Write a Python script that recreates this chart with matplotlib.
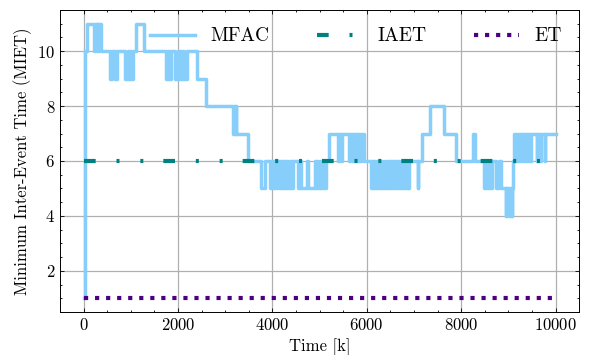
import numpy as np
import matplotlib
matplotlib.use('Agg')
import matplotlib.pyplot as plt
from matplotlib.ticker import AutoMinorLocator

plt.rcParams['font.family'] = 'serif'
plt.rcParams['font.serif'] = ['cmr10', 'DejaVu Serif']
plt.rcParams['mathtext.fontset'] = 'cm'
plt.rcParams['axes.formatter.use_mathtext'] = True

# MFAC: (time k where value changes, new value)
mfac_pts = [
    (0, 1), (40, 10), (75, 11), (225, 10), (245, 11), (275, 10), (290, 11), (320, 10), (335, 11), (360, 10),
    (549, 9), (612, 10), (655, 9), (718, 10), (880, 9), (936, 10), (955, 9), (986, 10), (1000, 9), (1042, 10),
    (1110, 11), (1280, 10),
    (1746, 9), (1790, 10), (1810, 9), (1845, 10), (1936, 9), (2000, 10), (2020, 9), (2042, 10), (2060, 9),
    (2098, 10), (2130, 9), (2182, 10),
    (2394, 9), (2591, 8), (3168, 7), (3185, 8), (3200, 7), (3220, 8), (3238, 7), (3485, 6),
    (3766, 5), (3837, 6),
    (3942, 5), (3965, 6), (3990, 5), (4010, 6), (4035, 5), (4060, 6), (4085, 5), (4105, 6), (4130, 5), (4155, 6),
    (4180, 5), (4200, 6), (4225, 5), (4250, 6), (4275, 5), (4295, 6), (4320, 5), (4345, 6), (4370, 5), (4390, 6),
    (4410, 5), (4435, 6),
    (4541, 5), (4576, 6), (4611, 5), (4740, 6), (4760, 5), (4893, 6),
    (4928, 5), (4950, 6), (4975, 5), (5000, 6), (5020, 5), (5045, 6), (5070, 5), (5095, 6), (5115, 5), (5139, 6),
    (5195, 7), (5390, 6), (5420, 7), (5450, 6), (5470, 7), (5632, 6), (5650, 7), (5690, 6), (5710, 7),
    (5738, 6), (5760, 7), (5785, 6), (5810, 7), (5830, 6), (5855, 7), (5880, 6), (5905, 7), (5935, 6),
    (6090, 5), (6115, 6), (6140, 5), (6160, 6), (6185, 5), (6210, 6), (6230, 5), (6255, 6), (6280, 5), (6300, 6),
    (6330, 5), (6355, 6), (6380, 5), (6420, 6), (6445, 5), (6470, 6), (6490, 5), (6515, 6), (6540, 5), (6565, 6),
    (6590, 5), (6610, 6), (6640, 5), (6665, 6), (6690, 5), (6720, 6), (6745, 5), (6770, 6), (6790, 5), (6815, 6),
    (6840, 5), (6870, 6), (6880, 5), (6900, 6),
    (7075, 5), (7093, 6), (7160, 7), (7336, 8), (7645, 7), (7900, 6), (8256, 7), (8300, 6),
    (8484, 5), (8505, 6), (8530, 5), (8555, 6), (8575, 5), (8600, 6), (8620, 5), (8660, 6),
    (8730, 5), (8800, 6), (8850, 5),
    (8940, 4), (8960, 5), (8985, 4), (9005, 5), (9030, 4), (9055, 5), (9070, 4), (9085, 5), (9100, 6),
    (9120, 7), (9140, 6), (9165, 7), (9185, 6), (9210, 7), (9235, 6), (9255, 7), (9280, 6), (9300, 7), (9325, 6),
    (9345, 7), (9370, 6), (9395, 7), (9420, 6), (9430, 7),
    (9458, 6), (9470, 7), (9600, 6), (9612, 7), (9670, 6), (9682, 7), (9775, 6), (9787, 7),
    (10000, 7),
]
mfac_k = [p[0] for p in mfac_pts]
mfac_v = [p[1] for p in mfac_pts]

k_range = [0, 10000]
iaet_v = [6, 6]
et_v = [1, 1]

fig = plt.figure(figsize=(5.94, 3.55), dpi=100)
ax = fig.add_axes([0.101, 0.121, 0.874, 0.851])

ax.step(mfac_k, mfac_v, where='post', color='#87CEFA', lw=2.5, label='MFAC')
ax.plot(k_range, iaet_v, color='#008080', lw=3,
        linestyle=(0, (2.8, 5.0, 0.72, 5.0, 0.72, 4.8)), label='IAET')
ax.plot(k_range, et_v, color='#4B0082', lw=3, linestyle=':', label='ET')

ax.set_xlabel('Time [k]', fontsize=12)
ax.set_ylabel('Minimum Inter-Event Time (MIET)', fontsize=12)
ax.set_yticks([2, 4, 6, 8, 10])
ax.set_xticks([0, 2000, 4000, 6000, 8000, 10000])
ax.xaxis.set_minor_locator(AutoMinorLocator(4))
ax.yaxis.set_minor_locator(AutoMinorLocator(4))
ax.tick_params(which='both', direction='in', top=True, right=True, labelsize=12)
ax.tick_params(which='major', length=3, width=0.6)
ax.tick_params(which='minor', length=1.5, width=0.6)
for s in ax.spines.values():
    s.set_linewidth(0.7)
ax.grid(True, which='major', color='#b0b0b0', lw=0.9)
ax.set_axisbelow(True)

ax.legend(loc='upper right', ncol=3, frameon=False, fontsize=14,
          handlelength=2.3, handletextpad=0.8, columnspacing=2.45)

fig.savefig('out.png', dpi=100)
